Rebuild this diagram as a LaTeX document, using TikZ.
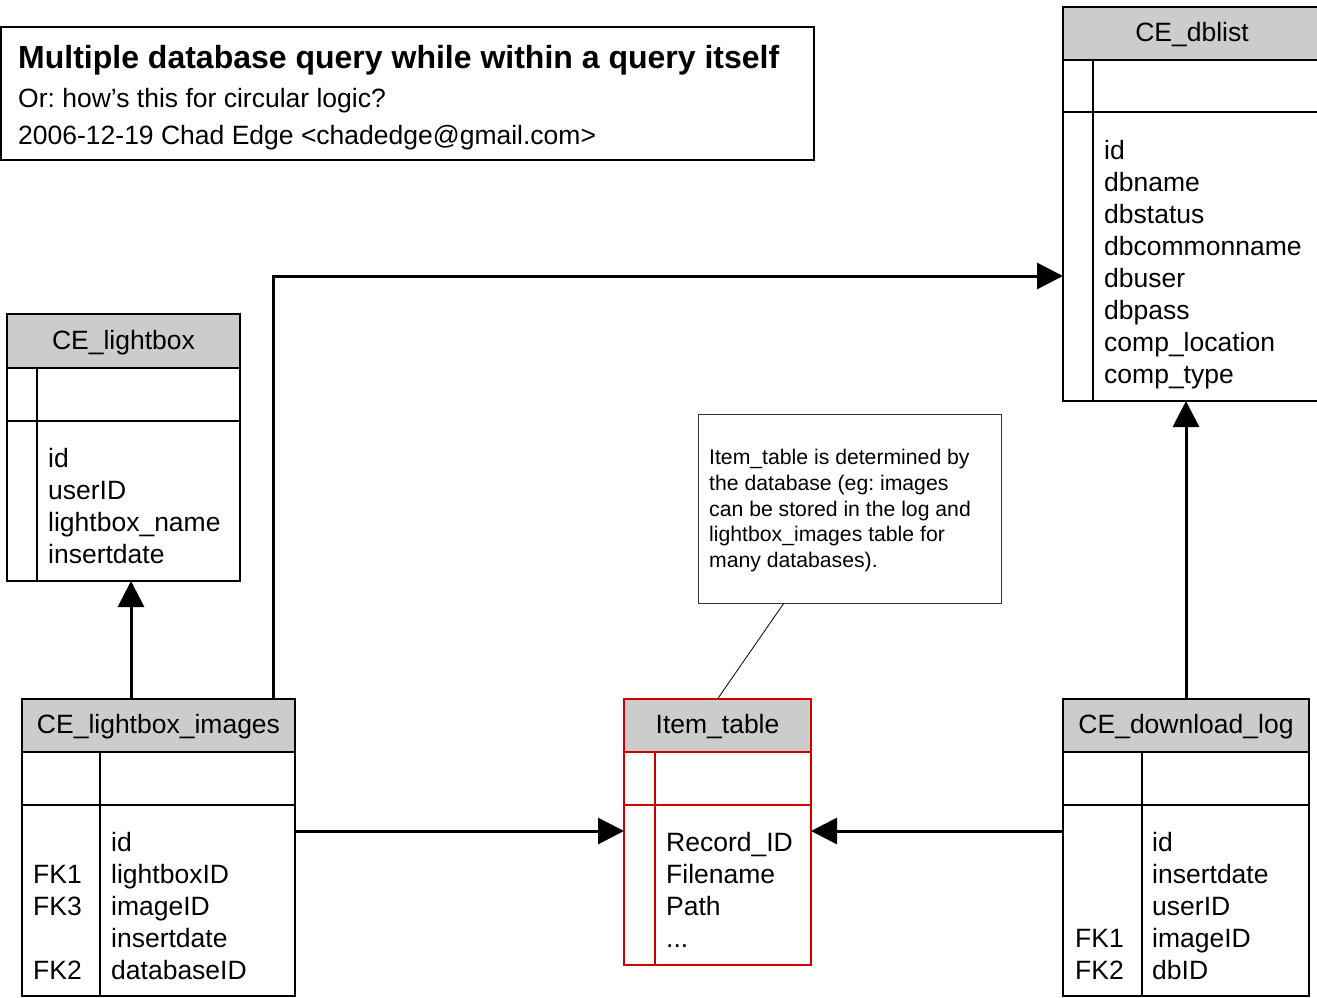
\documentclass[tikz,border=0pt]{standalone}
\usepackage{fontspec}
\setmainfont{Liberation Sans}
\frenchspacing
\usetikzlibrary{arrows.meta,calc}
\definecolor{hdrgray}{HTML}{CCCCCC}
\definecolor{tblred}{HTML}{CC0000}
\tikzset{
 tblframe/.style={draw=black, line width=2pt, inner sep=0pt, outer sep=0pt, anchor=north west},
 fld/.style={anchor=base west, inner sep=0pt, font=\fontsize{26.5}{32}\selectfont},
 hdrtxt/.style={anchor=base, inner sep=0pt, font=\fontsize{26.5}{32}\selectfont},
 notetxt/.style={anchor=base west, inner sep=0pt, font=\fontsize{21.2}{26}\selectfont},
 conn/.style={line width=3pt, -{Triangle[length=26pt,width=26pt]}},
 rule/.style={line width=2pt},
}
\begin{document}
\begin{tikzpicture}[x=1pt,y=-1pt]
\useasboundingbox (0,0) rectangle (1317,998);
\clip (0,0) rectangle (1317,998);

% Title box
\node[draw=black, line width=1.5pt, inner sep=0pt, outer sep=0pt, anchor=north west,
      minimum width=813pt, minimum height=133pt] (title) at (1,27) {};
\node[anchor=base west, inner sep=0pt, font=\fontsize{32}{38}\selectfont\bfseries] (t1) at (18,68) {Multiple database query while within a query itself};
\node[anchor=base west, inner sep=0pt, font=\fontsize{26.5}{32}\selectfont] (t2) at (18,107) {Or: how’s this for circular logic?};
\node[anchor=base west, inner sep=0pt, font=\fontsize{26.5}{32}\selectfont] (t3) at (18,144) {2006-12-19 Chad Edge <chadedge@gmail.com>};

% CE_dblist
\fill[hdrgray] (1063,7) rectangle (1330,60);
\node[tblframe, minimum width=267pt, minimum height=394pt] (db) at (1063,7) {};
\draw[rule] (1063,60) -- (1330,60) (1063,112) -- (1330,112) (1093,60) -- (1093,401);
\node[hdrtxt] (dbh) at (1192,42) {CE\_dblist};
\foreach \t [count=\i] in {id,dbname,dbstatus,dbcommonname,dbuser,dbpass,comp\_location,comp\_type}
  \node[fld] (dbf\i) at (1104,{159+32*(\i-1)}) {\t};

% CE_lightbox
\fill[hdrgray] (7,314) rectangle (240,368);
\node[tblframe, minimum width=233pt, minimum height=267pt] (lb) at (7,314) {};
\draw[rule] (7,368) -- (240,368) (7,421) -- (240,421) (37,368) -- (37,581);
\node[hdrtxt] (lbh) at (123.5,349) {CE\_lightbox};
\foreach \t [count=\i] in {id,userID,lightbox\_name,insertdate}
  \node[fld] (lbf\i) at (48,{467+32*(\i-1)}) {\t};

% CE_lightbox_images
\fill[hdrgray] (22,699) rectangle (295,752);
\node[tblframe, minimum width=273pt, minimum height=297pt] (lbi) at (22,699) {};
\draw[rule] (22,752) -- (295,752) (22,805) -- (295,805) (100,752) -- (100,996);
\node[hdrtxt] (lbih) at (158.5,733) {CE\_lightbox\_images};
\foreach \t [count=\i] in {id,lightboxID,imageID,insertdate,databaseID}
  \node[fld] (lbif\i) at (111,{851+32*(\i-1)}) {\t};
\node[fld] (lbik1) at (33,883) {FK1};
\node[fld] (lbik3) at (33,915) {FK3};
\node[fld] (lbik2) at (33,979) {FK2};

% Item_table
\fill[hdrgray] (624,699) rectangle (811,752);
\node[tblframe, draw=tblred, minimum width=187pt, minimum height=266pt] (item) at (624,699) {};
\draw[rule, tblred] (624,752) -- (811,752) (624,805) -- (811,805) (655,752) -- (655,965);
\node[hdrtxt] (itemh) at (717.5,733) {Item\_table};
\node[fld] (itemf1) at (666,851) {Record\_ID};
\node[fld] (itemf2) at (666,883) {Filename};
\node[fld] (itemf3) at (666,915) {Path};
\node[fld] (itemf4) at (666,947) {...};

% CE_download_log
\fill[hdrgray] (1063,699) rectangle (1309,752);
\node[tblframe, minimum width=246pt, minimum height=297pt] (dl) at (1063,699) {};
\draw[rule] (1063,752) -- (1309,752) (1063,805) -- (1309,805) (1142,752) -- (1142,996);
\node[hdrtxt] (dlh) at (1186,733) {CE\_download\_log};
\foreach \t [count=\i] in {id,insertdate,userID,imageID,dbID}
  \node[fld] (dlf\i) at (1152,{851+32*(\i-1)}) {\t};
\node[fld] (dlk1) at (1075,947) {FK1};
\node[fld] (dlk2) at (1075,979) {FK2};

% Note
\node[draw=black!80, line width=1pt, inner sep=0pt, outer sep=0pt, anchor=north west,
      minimum width=303pt, minimum height=189pt] (note) at (698,414) {};
\node[notetxt] (nt1) at (709,464.5) {Item\_table is determined by};
\node[notetxt] (nt2) at (709,490.3) {the database (eg: images};
\node[notetxt] (nt3) at (709,516.1) {can be stored in the log and};
\node[notetxt] (nt4) at (709,541.9) {lightbox\_images table for};
\node[notetxt] (nt5) at (709,567.7) {many databases).};

% Connectors
\coordinate (midrow) at (0,831);
\draw[conn] ([xshift=109pt]lbi.north west) -- ([xshift=109pt]lbi.north west |- lb.south);
\draw[conn] ([xshift=251pt]lbi.north west) |- ([yshift=-269pt]db.north west);
\draw[conn] (lbi.east |- midrow) -- (item.west |- midrow);
\draw[conn] (dl.west |- midrow) -- (item.east |- midrow);
\draw[conn] (dl.north) -- (dl.north |- db.south);
\draw[line width=0.8pt] ([xshift=86pt]note.south west) -- (item.north);
\end{tikzpicture}
\end{document}
